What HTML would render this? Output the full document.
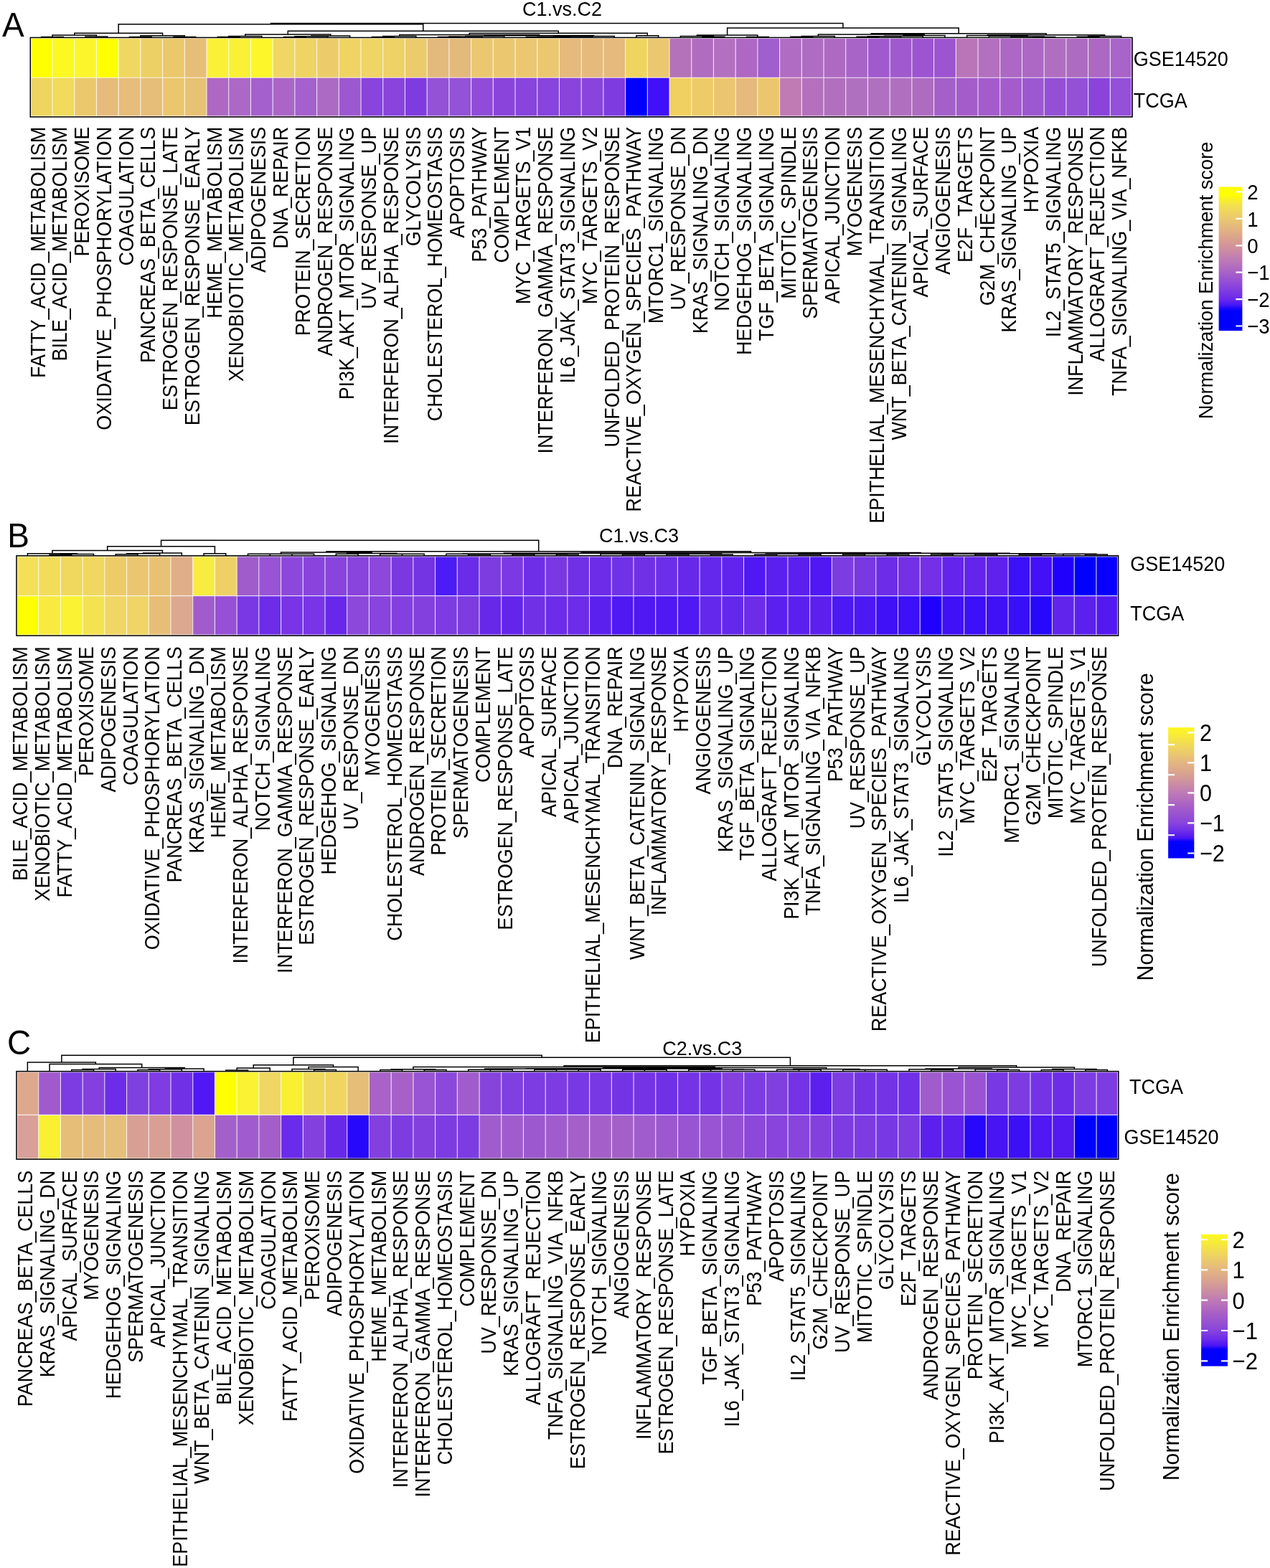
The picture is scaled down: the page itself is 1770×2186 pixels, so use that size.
<!DOCTYPE html>
<html><head><meta charset="utf-8"><title>Hallmark enrichment heatmaps</title>
<style>html,body{margin:0;padding:0;background:#fff;}svg{display:block;}text{font-family:"Liberation Sans", Arial, Helvetica, sans-serif;fill:#000;}</style></head><body>
<svg width="1770" height="2186" viewBox="0 0 1770 2186">
<rect x="0" y="0" width="1770" height="2186" fill="#fff"/>
<defs>
<linearGradient id="gA" x1="0" y1="0" x2="0" y2="1">
<stop offset="0.0000" stop-color="#FFFF00"/>
<stop offset="0.0531" stop-color="#FFFF00"/>
<stop offset="0.1277" stop-color="#F3E050"/>
<stop offset="0.2209" stop-color="#EAC870"/>
<stop offset="0.3142" stop-color="#E0AE84"/>
<stop offset="0.4075" stop-color="#D39498"/>
<stop offset="0.5007" stop-color="#C07CB4"/>
<stop offset="0.5940" stop-color="#A862C6"/>
<stop offset="0.6873" stop-color="#8C46DC"/>
<stop offset="0.7805" stop-color="#6A28EC"/>
<stop offset="0.8179" stop-color="#4A18F4"/>
<stop offset="0.8458" stop-color="#1A06FC"/>
<stop offset="0.8645" stop-color="#0000FF"/>
<stop offset="1.0000" stop-color="#0000FF"/>
</linearGradient>
<linearGradient id="gB" x1="0" y1="0" x2="0" y2="1">
<stop offset="0.0000" stop-color="#FDF81E"/>
<stop offset="0.0389" stop-color="#FAF030"/>
<stop offset="0.1543" stop-color="#EFD460"/>
<stop offset="0.2696" stop-color="#E3B682"/>
<stop offset="0.3849" stop-color="#D49A96"/>
<stop offset="0.5003" stop-color="#BE7AB6"/>
<stop offset="0.6156" stop-color="#A45CC8"/>
<stop offset="0.7309" stop-color="#8844DC"/>
<stop offset="0.8001" stop-color="#6A2AEA"/>
<stop offset="0.8463" stop-color="#4A14F4"/>
<stop offset="0.8739" stop-color="#0400FE"/>
<stop offset="0.8924" stop-color="#0000FF"/>
<stop offset="1.0000" stop-color="#0000FF"/>
</linearGradient>
<linearGradient id="gC" x1="0" y1="0" x2="0" y2="1">
<stop offset="0.0000" stop-color="#FDF81E"/>
<stop offset="0.0392" stop-color="#FAF030"/>
<stop offset="0.1543" stop-color="#EFD460"/>
<stop offset="0.2695" stop-color="#E3B682"/>
<stop offset="0.3846" stop-color="#D49A96"/>
<stop offset="0.4997" stop-color="#BE7AB6"/>
<stop offset="0.6149" stop-color="#A45CC8"/>
<stop offset="0.7300" stop-color="#8844DC"/>
<stop offset="0.7991" stop-color="#6A2AEA"/>
<stop offset="0.8451" stop-color="#4A14F4"/>
<stop offset="0.8728" stop-color="#0400FE"/>
<stop offset="0.8912" stop-color="#0000FF"/>
<stop offset="1.0000" stop-color="#0000FF"/>
</linearGradient>
</defs>
<g id="panelA">
<text transform="translate(3 51.1) scale(1 1.04)" font-size="46">A</text>
<text transform="translate(783.5 22.1) scale(1 1.02)" font-size="27" text-anchor="middle">C1.vs.C2</text>
<path d="M57.66 52.4V51.6H88.37V52.4M119.09 52.4V51H149.8V52.4M73.01 51.6V49H134.44V51M180.51 52.4V51.5H211.23V52.4M241.94 52.4V51.5H272.66V52.4M195.87 51.5V49.7H257.3V51.5M103.73 49V46.2H226.58V49.7M303.37 52.4V51.5H334.08V52.4M318.73 51.5V50.5H364.8V52.4M395.51 52.4V51.5H426.23V52.4M410.87 51.5V50.8H456.94V52.4M433.9 50.8V50H487.65V52.4M341.76 50.5V48.1H460.78V50M518.37 52.4V51.5H549.08V52.4M533.72 51.5V50.5H579.79V52.4M610.51 52.4V51.5H641.22V52.4M625.87 51.5V51H671.94V52.4M648.9 51V50.5H702.65V52.4M733.37 52.4V51.6H764.08V52.4M748.72 51.6V51.3H794.79V52.4M771.76 51.3V51H825.51V52.4M798.63 51V50.5H856.22V52.4M675.78 50.5V49.5H827.43V50.5M556.76 50.5V48.6H751.6V49.5M886.94 52.4V49.7H917.65V52.4M654.18 48.6V46.2H902.29V49.7M401.27 48.1V43.3H778.24V46.2M165.16 46.2V33.8H589.75V43.3M979.08 52.4V51.2H1009.79V52.4M948.36 52.4V50.5H994.43V51.2M1040.51 52.4V51.5H1071.22V52.4M971.4 50.5V49H1055.86V51.5M1101.93 52.4V51.2H1132.65V52.4M1117.29 51.2V50.5H1163.36V52.4M1194.08 52.4V51.3H1224.79V52.4M1209.43 51.3V50.8H1255.5V52.4M1232.47 50.8V50.2H1286.22V52.4M1259.34 50.2V49.5H1316.93V52.4M1140.33 50.5V48.1H1288.14V49.5M1439.79 52.4V51.4H1470.5V52.4M1409.07 52.4V50.9H1455.14V51.4M1378.36 52.4V50.3H1432.11V50.9M1347.64 52.4V49.6H1405.23V50.3M1501.22 52.4V51.2H1531.93V52.4M1516.57 51.2V50.5H1562.64V52.4M1376.44 49.6V48.7H1539.61V50.5M1214.23 48.1V46.8H1458.02V48.7M1013.63 49V39H1336.13V46.8M377.45 33.8V32.4H1174.88V39" fill="none" stroke="#000" stroke-width="1.5" stroke-linecap="square"/>
<rect x="42.3" y="52.4" width="31.01" height="56.1" fill="#FFFF00"/>
<rect x="73.01" y="52.4" width="31.01" height="56.1" fill="#FCF822"/>
<rect x="103.73" y="52.4" width="31.01" height="56.1" fill="#FCF52C"/>
<rect x="134.44" y="52.4" width="31.01" height="56.1" fill="#FFFF00"/>
<rect x="165.16" y="52.4" width="31.01" height="56.1" fill="#F0D860"/>
<rect x="195.87" y="52.4" width="31.01" height="56.1" fill="#EDD065"/>
<rect x="226.58" y="52.4" width="31.01" height="56.1" fill="#EBC86A"/>
<rect x="257.3" y="52.4" width="31.01" height="56.1" fill="#E6BE78"/>
<rect x="288.01" y="52.4" width="31.01" height="56.1" fill="#FAF036"/>
<rect x="318.73" y="52.4" width="31.01" height="56.1" fill="#FAF036"/>
<rect x="349.44" y="52.4" width="31.01" height="56.1" fill="#FCF62A"/>
<rect x="380.15" y="52.4" width="31.01" height="56.1" fill="#F0D664"/>
<rect x="410.87" y="52.4" width="31.01" height="56.1" fill="#EFD464"/>
<rect x="441.58" y="52.4" width="31.01" height="56.1" fill="#ECCC6A"/>
<rect x="472.3" y="52.4" width="31.01" height="56.1" fill="#EFD464"/>
<rect x="503.01" y="52.4" width="31.01" height="56.1" fill="#EFD466"/>
<rect x="533.72" y="52.4" width="31.01" height="56.1" fill="#EED266"/>
<rect x="564.44" y="52.4" width="31.01" height="56.1" fill="#EBCB6C"/>
<rect x="595.15" y="52.4" width="31.01" height="56.1" fill="#E4BA7C"/>
<rect x="625.87" y="52.4" width="31.01" height="56.1" fill="#E4BA7C"/>
<rect x="656.58" y="52.4" width="31.01" height="56.1" fill="#EBC870"/>
<rect x="687.29" y="52.4" width="31.01" height="56.1" fill="#EBC870"/>
<rect x="718.01" y="52.4" width="31.01" height="56.1" fill="#EBC870"/>
<rect x="748.72" y="52.4" width="31.01" height="56.1" fill="#EBC870"/>
<rect x="779.44" y="52.4" width="31.01" height="56.1" fill="#E6BA7C"/>
<rect x="810.15" y="52.4" width="31.01" height="56.1" fill="#E6BA7C"/>
<rect x="840.86" y="52.4" width="31.01" height="56.1" fill="#E6BA7C"/>
<rect x="871.58" y="52.4" width="31.01" height="56.1" fill="#F0D460"/>
<rect x="902.29" y="52.4" width="31.01" height="56.1" fill="#EBC870"/>
<rect x="933.01" y="52.4" width="31.01" height="56.1" fill="#B472B8"/>
<rect x="963.72" y="52.4" width="31.01" height="56.1" fill="#B06CC0"/>
<rect x="994.43" y="52.4" width="31.01" height="56.1" fill="#B470C0"/>
<rect x="1025.15" y="52.4" width="31.01" height="56.1" fill="#AE68C4"/>
<rect x="1055.86" y="52.4" width="31.01" height="56.1" fill="#A05ECE"/>
<rect x="1086.58" y="52.4" width="31.01" height="56.1" fill="#B06CC2"/>
<rect x="1117.29" y="52.4" width="31.01" height="56.1" fill="#AE6CC2"/>
<rect x="1148" y="52.4" width="31.01" height="56.1" fill="#AE6AC2"/>
<rect x="1178.72" y="52.4" width="31.01" height="56.1" fill="#A864C6"/>
<rect x="1209.43" y="52.4" width="31.01" height="56.1" fill="#A05ACE"/>
<rect x="1240.15" y="52.4" width="31.01" height="56.1" fill="#A05ACE"/>
<rect x="1270.86" y="52.4" width="31.01" height="56.1" fill="#9C54D0"/>
<rect x="1301.57" y="52.4" width="31.01" height="56.1" fill="#9C54D0"/>
<rect x="1332.29" y="52.4" width="31.01" height="56.1" fill="#BA74B8"/>
<rect x="1363" y="52.4" width="31.01" height="56.1" fill="#B270BE"/>
<rect x="1393.72" y="52.4" width="31.01" height="56.1" fill="#AC68C4"/>
<rect x="1424.43" y="52.4" width="31.01" height="56.1" fill="#AC68C4"/>
<rect x="1455.14" y="52.4" width="31.01" height="56.1" fill="#B06EC0"/>
<rect x="1485.86" y="52.4" width="31.01" height="56.1" fill="#AE6CC0"/>
<rect x="1516.57" y="52.4" width="31.01" height="56.1" fill="#AC68C2"/>
<rect x="1547.29" y="52.4" width="31.01" height="56.1" fill="#A864C8"/>
<rect x="42.3" y="108.2" width="31.01" height="55.1" fill="#EFD460"/>
<rect x="73.01" y="108.2" width="31.01" height="55.1" fill="#F1DA5C"/>
<rect x="103.73" y="108.2" width="31.01" height="55.1" fill="#EBC86C"/>
<rect x="134.44" y="108.2" width="31.01" height="55.1" fill="#E6BC7C"/>
<rect x="165.16" y="108.2" width="31.01" height="55.1" fill="#E6BD7A"/>
<rect x="195.87" y="108.2" width="31.01" height="55.1" fill="#E6BE7A"/>
<rect x="226.58" y="108.2" width="31.01" height="55.1" fill="#EBC66E"/>
<rect x="257.3" y="108.2" width="31.01" height="55.1" fill="#E8C274"/>
<rect x="288.01" y="108.2" width="31.01" height="55.1" fill="#AE68C4"/>
<rect x="318.73" y="108.2" width="31.01" height="55.1" fill="#AC68C6"/>
<rect x="349.44" y="108.2" width="31.01" height="55.1" fill="#A460CC"/>
<rect x="380.15" y="108.2" width="31.01" height="55.1" fill="#AA66C6"/>
<rect x="410.87" y="108.2" width="31.01" height="55.1" fill="#A460CC"/>
<rect x="441.58" y="108.2" width="31.01" height="55.1" fill="#AC6AC4"/>
<rect x="472.3" y="108.2" width="31.01" height="55.1" fill="#9C58D0"/>
<rect x="503.01" y="108.2" width="31.01" height="55.1" fill="#8844DC"/>
<rect x="533.72" y="108.2" width="31.01" height="55.1" fill="#8844DC"/>
<rect x="564.44" y="108.2" width="31.01" height="55.1" fill="#7E3CDE"/>
<rect x="595.15" y="108.2" width="31.01" height="55.1" fill="#9452D6"/>
<rect x="625.87" y="108.2" width="31.01" height="55.1" fill="#9452D6"/>
<rect x="656.58" y="108.2" width="31.01" height="55.1" fill="#904CD8"/>
<rect x="687.29" y="108.2" width="31.01" height="55.1" fill="#8A44DC"/>
<rect x="718.01" y="108.2" width="31.01" height="55.1" fill="#8844DC"/>
<rect x="748.72" y="108.2" width="31.01" height="55.1" fill="#8844DC"/>
<rect x="779.44" y="108.2" width="31.01" height="55.1" fill="#8844DC"/>
<rect x="810.15" y="108.2" width="31.01" height="55.1" fill="#8844DC"/>
<rect x="840.86" y="108.2" width="31.01" height="55.1" fill="#7E3CE0"/>
<rect x="871.58" y="108.2" width="31.01" height="55.1" fill="#0000FF"/>
<rect x="902.29" y="108.2" width="31.01" height="55.1" fill="#4010F8"/>
<rect x="933.01" y="108.2" width="31.01" height="55.1" fill="#F0D060"/>
<rect x="963.72" y="108.2" width="31.01" height="55.1" fill="#EDCC68"/>
<rect x="994.43" y="108.2" width="31.01" height="55.1" fill="#EBC66E"/>
<rect x="1025.15" y="108.2" width="31.01" height="55.1" fill="#E6BA7C"/>
<rect x="1055.86" y="108.2" width="31.01" height="55.1" fill="#EBC66E"/>
<rect x="1086.58" y="108.2" width="31.01" height="55.1" fill="#C07AB4"/>
<rect x="1117.29" y="108.2" width="31.01" height="55.1" fill="#B470BC"/>
<rect x="1148" y="108.2" width="31.01" height="55.1" fill="#B070BE"/>
<rect x="1178.72" y="108.2" width="31.01" height="55.1" fill="#B070C0"/>
<rect x="1209.43" y="108.2" width="31.01" height="55.1" fill="#B070C0"/>
<rect x="1240.15" y="108.2" width="31.01" height="55.1" fill="#B070C0"/>
<rect x="1270.86" y="108.2" width="31.01" height="55.1" fill="#AE6CC0"/>
<rect x="1301.57" y="108.2" width="31.01" height="55.1" fill="#A460C8"/>
<rect x="1332.29" y="108.2" width="31.01" height="55.1" fill="#A45CCA"/>
<rect x="1363" y="108.2" width="31.01" height="55.1" fill="#A45CCC"/>
<rect x="1393.72" y="108.2" width="31.01" height="55.1" fill="#A45CCC"/>
<rect x="1424.43" y="108.2" width="31.01" height="55.1" fill="#9C58D0"/>
<rect x="1455.14" y="108.2" width="31.01" height="55.1" fill="#9450D4"/>
<rect x="1485.86" y="108.2" width="31.01" height="55.1" fill="#9450D6"/>
<rect x="1516.57" y="108.2" width="31.01" height="55.1" fill="#8A44DC"/>
<rect x="1547.29" y="108.2" width="31.01" height="55.1" fill="#9450D8"/>
<path d="M73.01 52.4V163M103.73 52.4V163M134.44 52.4V163M165.16 52.4V163M195.87 52.4V163M226.58 52.4V163M257.3 52.4V163M288.01 52.4V163M318.73 52.4V163M349.44 52.4V163M380.15 52.4V163M410.87 52.4V163M441.58 52.4V163M472.3 52.4V163M503.01 52.4V163M533.72 52.4V163M564.44 52.4V163M595.15 52.4V163M625.87 52.4V163M656.58 52.4V163M687.29 52.4V163M718.01 52.4V163M748.72 52.4V163M779.44 52.4V163M810.15 52.4V163M840.86 52.4V163M871.58 52.4V163M902.29 52.4V163M933.01 52.4V163M963.72 52.4V163M994.43 52.4V163M1025.15 52.4V163M1055.86 52.4V163M1086.58 52.4V163M1117.29 52.4V163M1148 52.4V163M1178.72 52.4V163M1209.43 52.4V163M1240.15 52.4V163M1270.86 52.4V163M1301.57 52.4V163M1332.29 52.4V163M1363 52.4V163M1393.72 52.4V163M1424.43 52.4V163M1455.14 52.4V163M1485.86 52.4V163M1516.57 52.4V163M1547.29 52.4V163M42.3 108.2H1578M43.4 52.4V163M1576.9 52.4V163M42.3 53.5H1578M42.3 161.9H1578" stroke="#fff" stroke-opacity="0.8" stroke-width="1.1" fill="none"/>
<rect x="42.3" y="52.4" width="1535.7" height="110.6" fill="none" stroke="#000" stroke-width="1.5"/>
<text transform="translate(1579.8 92.2) scale(1 1.08)" font-size="27">GSE14520</text>
<text transform="translate(1579.8 149.5) scale(1 1.08)" font-size="27">TCGA</text>
<text transform="translate(62.5 176.8) rotate(-90) scale(1 1.08)" font-size="26.9" text-anchor="end">FATTY_ACID_METABOLISM</text>
<text transform="translate(93.27 176.8) rotate(-90) scale(1 1.08)" font-size="26.9" text-anchor="end">BILE_ACID_METABOLISM</text>
<text transform="translate(124.04 176.8) rotate(-90) scale(1 1.08)" font-size="26.9" text-anchor="end">PEROXISOME</text>
<text transform="translate(154.81 176.8) rotate(-90) scale(1 1.08)" font-size="26.9" text-anchor="end">OXIDATIVE_PHOSPHORYLATION</text>
<text transform="translate(185.58 176.8) rotate(-90) scale(1 1.08)" font-size="26.9" text-anchor="end">COAGULATION</text>
<text transform="translate(216.35 176.8) rotate(-90) scale(1 1.08)" font-size="26.9" text-anchor="end">PANCREAS_BETA_CELLS</text>
<text transform="translate(247.12 176.8) rotate(-90) scale(1 1.08)" font-size="26.9" text-anchor="end">ESTROGEN_RESPONSE_LATE</text>
<text transform="translate(277.89 176.8) rotate(-90) scale(1 1.08)" font-size="26.9" text-anchor="end">ESTROGEN_RESPONSE_EARLY</text>
<text transform="translate(308.66 176.8) rotate(-90) scale(1 1.08)" font-size="26.9" text-anchor="end">HEME_METABOLISM</text>
<text transform="translate(339.43 176.8) rotate(-90) scale(1 1.08)" font-size="26.9" text-anchor="end">XENOBIOTIC_METABOLISM</text>
<text transform="translate(370.2 176.8) rotate(-90) scale(1 1.08)" font-size="26.9" text-anchor="end">ADIPOGENESIS</text>
<text transform="translate(400.97 176.8) rotate(-90) scale(1 1.08)" font-size="26.9" text-anchor="end">DNA_REPAIR</text>
<text transform="translate(431.74 176.8) rotate(-90) scale(1 1.08)" font-size="26.9" text-anchor="end">PROTEIN_SECRETION</text>
<text transform="translate(462.51 176.8) rotate(-90) scale(1 1.08)" font-size="26.9" text-anchor="end">ANDROGEN_RESPONSE</text>
<text transform="translate(493.28 176.8) rotate(-90) scale(1 1.08)" font-size="26.9" text-anchor="end">PI3K_AKT_MTOR_SIGNALING</text>
<text transform="translate(524.05 176.8) rotate(-90) scale(1 1.08)" font-size="26.9" text-anchor="end">UV_RESPONSE_UP</text>
<text transform="translate(554.82 176.8) rotate(-90) scale(1 1.08)" font-size="26.9" text-anchor="end">INTERFERON_ALPHA_RESPONSE</text>
<text transform="translate(585.59 176.8) rotate(-90) scale(1 1.08)" font-size="26.9" text-anchor="end">GLYCOLYSIS</text>
<text transform="translate(616.36 176.8) rotate(-90) scale(1 1.08)" font-size="26.9" text-anchor="end">CHOLESTEROL_HOMEOSTASIS</text>
<text transform="translate(647.13 176.8) rotate(-90) scale(1 1.08)" font-size="26.9" text-anchor="end">APOPTOSIS</text>
<text transform="translate(677.9 176.8) rotate(-90) scale(1 1.08)" font-size="26.9" text-anchor="end">P53_PATHWAY</text>
<text transform="translate(708.67 176.8) rotate(-90) scale(1 1.08)" font-size="26.9" text-anchor="end">COMPLEMENT</text>
<text transform="translate(739.44 176.8) rotate(-90) scale(1 1.08)" font-size="26.9" text-anchor="end">MYC_TARGETS_V1</text>
<text transform="translate(770.21 176.8) rotate(-90) scale(1 1.08)" font-size="26.9" text-anchor="end">INTERFERON_GAMMA_RESPONSE</text>
<text transform="translate(800.98 176.8) rotate(-90) scale(1 1.08)" font-size="26.9" text-anchor="end">IL6_JAK_STAT3_SIGNALING</text>
<text transform="translate(831.75 176.8) rotate(-90) scale(1 1.08)" font-size="26.9" text-anchor="end">MYC_TARGETS_V2</text>
<text transform="translate(862.52 176.8) rotate(-90) scale(1 1.08)" font-size="26.9" text-anchor="end">UNFOLDED_PROTEIN_RESPONSE</text>
<text transform="translate(893.29 176.8) rotate(-90) scale(1 1.08)" font-size="26.9" text-anchor="end">REACTIVE_OXYGEN_SPECIES_PATHWAY</text>
<text transform="translate(924.06 176.8) rotate(-90) scale(1 1.08)" font-size="26.9" text-anchor="end">MTORC1_SIGNALING</text>
<text transform="translate(954.83 176.8) rotate(-90) scale(1 1.08)" font-size="26.9" text-anchor="end">UV_RESPONSE_DN</text>
<text transform="translate(985.6 176.8) rotate(-90) scale(1 1.08)" font-size="26.9" text-anchor="end">KRAS_SIGNALING_DN</text>
<text transform="translate(1016.37 176.8) rotate(-90) scale(1 1.08)" font-size="26.9" text-anchor="end">NOTCH_SIGNALING</text>
<text transform="translate(1047.14 176.8) rotate(-90) scale(1 1.08)" font-size="26.9" text-anchor="end">HEDGEHOG_SIGNALING</text>
<text transform="translate(1077.91 176.8) rotate(-90) scale(1 1.08)" font-size="26.9" text-anchor="end">TGF_BETA_SIGNALING</text>
<text transform="translate(1108.68 176.8) rotate(-90) scale(1 1.08)" font-size="26.9" text-anchor="end">MITOTIC_SPINDLE</text>
<text transform="translate(1139.45 176.8) rotate(-90) scale(1 1.08)" font-size="26.9" text-anchor="end">SPERMATOGENESIS</text>
<text transform="translate(1170.22 176.8) rotate(-90) scale(1 1.08)" font-size="26.9" text-anchor="end">APICAL_JUNCTION</text>
<text transform="translate(1200.99 176.8) rotate(-90) scale(1 1.08)" font-size="26.9" text-anchor="end">MYOGENESIS</text>
<text transform="translate(1231.76 176.8) rotate(-90) scale(1 1.08)" font-size="26.9" text-anchor="end">EPITHELIAL_MESENCHYMAL_TRANSITION</text>
<text transform="translate(1262.53 176.8) rotate(-90) scale(1 1.08)" font-size="26.9" text-anchor="end">WNT_BETA_CATENIN_SIGNALING</text>
<text transform="translate(1293.3 176.8) rotate(-90) scale(1 1.08)" font-size="26.9" text-anchor="end">APICAL_SURFACE</text>
<text transform="translate(1324.07 176.8) rotate(-90) scale(1 1.08)" font-size="26.9" text-anchor="end">ANGIOGENESIS</text>
<text transform="translate(1354.84 176.8) rotate(-90) scale(1 1.08)" font-size="26.9" text-anchor="end">E2F_TARGETS</text>
<text transform="translate(1385.61 176.8) rotate(-90) scale(1 1.08)" font-size="26.9" text-anchor="end">G2M_CHECKPOINT</text>
<text transform="translate(1416.38 176.8) rotate(-90) scale(1 1.08)" font-size="26.9" text-anchor="end">KRAS_SIGNALING_UP</text>
<text transform="translate(1447.15 176.8) rotate(-90) scale(1 1.08)" font-size="26.9" text-anchor="end">HYPOXIA</text>
<text transform="translate(1477.92 176.8) rotate(-90) scale(1 1.08)" font-size="26.9" text-anchor="end">IL2_STAT5_SIGNALING</text>
<text transform="translate(1508.69 176.8) rotate(-90) scale(1 1.08)" font-size="26.9" text-anchor="end">INFLAMMATORY_RESPONSE</text>
<text transform="translate(1539.46 176.8) rotate(-90) scale(1 1.08)" font-size="26.9" text-anchor="end">ALLOGRAFT_REJECTION</text>
<text transform="translate(1570.23 176.8) rotate(-90) scale(1 1.08)" font-size="26.9" text-anchor="end">TNFA_SIGNALING_VIA_NFKB</text>
</g>
<g id="panelB">
<text transform="translate(10.2 763.2) scale(1 1.04)" font-size="46">B</text>
<text transform="translate(890.5 755.5) scale(1 1.02)" font-size="27" text-anchor="middle">C1.vs.C3</text>
<path d="M69.07 774.8V773.4H99.78V774.8M84.42 773.4V772.5H130.49V774.8M38.36 774.8V771.7H107.46V772.5M161.2 774.8V772.8H191.92V774.8M176.56 772.8V771.8H222.63V774.8M199.59 771.8V770.9H253.34V774.8M72.91 771.7V767.6H226.47V770.9M284.05 774.8V771.8H314.76V774.8M149.69 767.6V761.8H299.41V771.8M345.48 774.8V772.34H376.19V774.8M406.9 774.8V772.34H437.61V774.8M360.83 772.34V772.28H422.26V772.34M468.32 774.8V772.34H499.04V774.8M560.46 774.8V772.34H591.17V774.8M529.75 774.8V772.25H575.82V772.34M483.68 772.34V771.62H552.78V772.25M391.54 772.28V769.9H518.23V771.62M652.6 774.8V773.01H683.31V774.8M621.88 774.8V772.24H667.95V773.01M714.02 774.8V773.01H744.73V774.8M775.44 774.8V773.01H806.16V774.8M729.38 773.01V772.32H790.8V773.01M644.92 772.24V772.03H760.09V772.32M867.58 774.8V773.01H898.29V774.8M836.87 774.8V772.24H882.94V773.01M929 774.8V773.01H959.72V774.8M990.43 774.8V773.01H1021.14V774.8M944.36 773.01V772.32H1005.78V773.01M859.9 772.24V772.03H975.07V772.32M702.5 772.03V771.34H917.49V772.03M1051.85 774.8V773.01H1082.56V774.8M1113.28 774.8V773.01H1143.99V774.8M1067.21 773.01V772.32H1128.63V773.01M1174.7 774.8V773.01H1205.41V774.8M1236.12 774.8V773.01H1266.84V774.8M1190.06 773.01V772.32H1251.48V773.01M1097.92 772.32V771.48H1220.77V772.32M1297.55 774.8V773.01H1328.26V774.8M1358.97 774.8V773.01H1389.68V774.8M1312.9 773.01V772.32H1374.33V773.01M1420.4 774.8V773.01H1451.11V774.8M1512.53 774.8V773.01H1543.24V774.8M1481.82 774.8V772.24H1527.89V773.01M1435.75 773.01V772.45H1504.85V772.24M1343.62 772.32V771.69H1470.3V772.45M1159.34 771.48V771.34H1406.96V771.69M810 771.34V770.6H1283.15V771.34M454.89 769.9V768.8H1046.57V770.6M224.55 761.8V753.3H750.73V768.8" fill="none" stroke="#000" stroke-width="1.5" stroke-linecap="square"/>
<rect x="23" y="774.8" width="31.01" height="56.1" fill="#F3E058"/>
<rect x="53.71" y="774.8" width="31.01" height="56.1" fill="#F2DC5A"/>
<rect x="84.42" y="774.8" width="31.01" height="56.1" fill="#F0D85E"/>
<rect x="115.14" y="774.8" width="31.01" height="56.1" fill="#F0D860"/>
<rect x="145.85" y="774.8" width="31.01" height="56.1" fill="#EDCC68"/>
<rect x="176.56" y="774.8" width="31.01" height="56.1" fill="#EAC670"/>
<rect x="207.27" y="774.8" width="31.01" height="56.1" fill="#E8C274"/>
<rect x="237.98" y="774.8" width="31.01" height="56.1" fill="#E0AE88"/>
<rect x="268.7" y="774.8" width="31.01" height="56.1" fill="#F8EC40"/>
<rect x="299.41" y="774.8" width="31.01" height="56.1" fill="#EFD066"/>
<rect x="330.12" y="774.8" width="31.01" height="56.1" fill="#A05CCA"/>
<rect x="360.83" y="774.8" width="31.01" height="56.1" fill="#9854D4"/>
<rect x="391.54" y="774.8" width="31.01" height="56.1" fill="#8C48DA"/>
<rect x="422.26" y="774.8" width="31.01" height="56.1" fill="#8844DC"/>
<rect x="452.97" y="774.8" width="31.01" height="56.1" fill="#8844DC"/>
<rect x="483.68" y="774.8" width="31.01" height="56.1" fill="#8844DC"/>
<rect x="514.39" y="774.8" width="31.01" height="56.1" fill="#8C48DA"/>
<rect x="545.1" y="774.8" width="31.01" height="56.1" fill="#7A38E0"/>
<rect x="575.82" y="774.8" width="31.01" height="56.1" fill="#7434E4"/>
<rect x="606.53" y="774.8" width="31.01" height="56.1" fill="#4C1CF4"/>
<rect x="637.24" y="774.8" width="31.01" height="56.1" fill="#6A2CE8"/>
<rect x="667.95" y="774.8" width="31.01" height="56.1" fill="#7C3CE0"/>
<rect x="698.66" y="774.8" width="31.01" height="56.1" fill="#7C38E2"/>
<rect x="729.38" y="774.8" width="31.01" height="56.1" fill="#6E2EE8"/>
<rect x="760.09" y="774.8" width="31.01" height="56.1" fill="#7A38E2"/>
<rect x="790.8" y="774.8" width="31.01" height="56.1" fill="#7030E6"/>
<rect x="821.51" y="774.8" width="31.01" height="56.1" fill="#6C2CE8"/>
<rect x="852.22" y="774.8" width="31.01" height="56.1" fill="#7032E6"/>
<rect x="882.94" y="774.8" width="31.01" height="56.1" fill="#7030E6"/>
<rect x="913.65" y="774.8" width="31.01" height="56.1" fill="#6C2EE8"/>
<rect x="944.36" y="774.8" width="31.01" height="56.1" fill="#6828EA"/>
<rect x="975.07" y="774.8" width="31.01" height="56.1" fill="#6428EC"/>
<rect x="1005.78" y="774.8" width="31.01" height="56.1" fill="#6024EE"/>
<rect x="1036.5" y="774.8" width="31.01" height="56.1" fill="#5018F2"/>
<rect x="1067.21" y="774.8" width="31.01" height="56.1" fill="#5C20EE"/>
<rect x="1097.92" y="774.8" width="31.01" height="56.1" fill="#5C20EE"/>
<rect x="1128.63" y="774.8" width="31.01" height="56.1" fill="#5018F2"/>
<rect x="1159.34" y="774.8" width="31.01" height="56.1" fill="#7C3CE2"/>
<rect x="1190.06" y="774.8" width="31.01" height="56.1" fill="#7838E2"/>
<rect x="1220.77" y="774.8" width="31.01" height="56.1" fill="#6C2CE8"/>
<rect x="1251.48" y="774.8" width="31.01" height="56.1" fill="#7430E6"/>
<rect x="1282.19" y="774.8" width="31.01" height="56.1" fill="#7430E6"/>
<rect x="1312.9" y="774.8" width="31.01" height="56.1" fill="#6424EC"/>
<rect x="1343.62" y="774.8" width="31.01" height="56.1" fill="#6424EC"/>
<rect x="1374.33" y="774.8" width="31.01" height="56.1" fill="#6020EE"/>
<rect x="1405.04" y="774.8" width="31.01" height="56.1" fill="#3C10F8"/>
<rect x="1435.75" y="774.8" width="31.01" height="56.1" fill="#4410F6"/>
<rect x="1466.46" y="774.8" width="31.01" height="56.1" fill="#2000FC"/>
<rect x="1497.18" y="774.8" width="31.01" height="56.1" fill="#0000FF"/>
<rect x="1527.89" y="774.8" width="31.01" height="56.1" fill="#0800FE"/>
<rect x="23" y="830.6" width="31.01" height="55.9" fill="#FFFF00"/>
<rect x="53.71" y="830.6" width="31.01" height="55.9" fill="#F8EA40"/>
<rect x="84.42" y="830.6" width="31.01" height="55.9" fill="#FAF232"/>
<rect x="115.14" y="830.6" width="31.01" height="55.9" fill="#F4E250"/>
<rect x="145.85" y="830.6" width="31.01" height="55.9" fill="#F0D664"/>
<rect x="176.56" y="830.6" width="31.01" height="55.9" fill="#EFD466"/>
<rect x="207.27" y="830.6" width="31.01" height="55.9" fill="#E6BE78"/>
<rect x="237.98" y="830.6" width="31.01" height="55.9" fill="#DCA890"/>
<rect x="268.7" y="830.6" width="31.01" height="55.9" fill="#A05CCC"/>
<rect x="299.41" y="830.6" width="31.01" height="55.9" fill="#9650D4"/>
<rect x="330.12" y="830.6" width="31.01" height="55.9" fill="#7A38E4"/>
<rect x="360.83" y="830.6" width="31.01" height="55.9" fill="#6C2CE8"/>
<rect x="391.54" y="830.6" width="31.01" height="55.9" fill="#7834E6"/>
<rect x="422.26" y="830.6" width="31.01" height="55.9" fill="#7834E6"/>
<rect x="452.97" y="830.6" width="31.01" height="55.9" fill="#6828EC"/>
<rect x="483.68" y="830.6" width="31.01" height="55.9" fill="#8C48DA"/>
<rect x="514.39" y="830.6" width="31.01" height="55.9" fill="#8844DC"/>
<rect x="545.1" y="830.6" width="31.01" height="55.9" fill="#8440DE"/>
<rect x="575.82" y="830.6" width="31.01" height="55.9" fill="#8440DE"/>
<rect x="606.53" y="830.6" width="31.01" height="55.9" fill="#7C3CE2"/>
<rect x="637.24" y="830.6" width="31.01" height="55.9" fill="#7C3CE0"/>
<rect x="667.95" y="830.6" width="31.01" height="55.9" fill="#6828EA"/>
<rect x="698.66" y="830.6" width="31.01" height="55.9" fill="#6424EC"/>
<rect x="729.38" y="830.6" width="31.01" height="55.9" fill="#7030E6"/>
<rect x="760.09" y="830.6" width="31.01" height="55.9" fill="#6C2CE8"/>
<rect x="790.8" y="830.6" width="31.01" height="55.9" fill="#6C2CE8"/>
<rect x="821.51" y="830.6" width="31.01" height="55.9" fill="#5C20EE"/>
<rect x="852.22" y="830.6" width="31.01" height="55.9" fill="#5018F2"/>
<rect x="882.94" y="830.6" width="31.01" height="55.9" fill="#5018F2"/>
<rect x="913.65" y="830.6" width="31.01" height="55.9" fill="#5018F2"/>
<rect x="944.36" y="830.6" width="31.01" height="55.9" fill="#5018F2"/>
<rect x="975.07" y="830.6" width="31.01" height="55.9" fill="#6428EC"/>
<rect x="1005.78" y="830.6" width="31.01" height="55.9" fill="#6428EC"/>
<rect x="1036.5" y="830.6" width="31.01" height="55.9" fill="#6C2CE8"/>
<rect x="1067.21" y="830.6" width="31.01" height="55.9" fill="#5C20EE"/>
<rect x="1097.92" y="830.6" width="31.01" height="55.9" fill="#5C20EE"/>
<rect x="1128.63" y="830.6" width="31.01" height="55.9" fill="#5C20EE"/>
<rect x="1159.34" y="830.6" width="31.01" height="55.9" fill="#4C18F4"/>
<rect x="1190.06" y="830.6" width="31.01" height="55.9" fill="#4C18F4"/>
<rect x="1220.77" y="830.6" width="31.01" height="55.9" fill="#4010F6"/>
<rect x="1251.48" y="830.6" width="31.01" height="55.9" fill="#3C10F8"/>
<rect x="1282.19" y="830.6" width="31.01" height="55.9" fill="#2000FC"/>
<rect x="1312.9" y="830.6" width="31.01" height="55.9" fill="#4010F6"/>
<rect x="1343.62" y="830.6" width="31.01" height="55.9" fill="#3C10F8"/>
<rect x="1374.33" y="830.6" width="31.01" height="55.9" fill="#4010F6"/>
<rect x="1405.04" y="830.6" width="31.01" height="55.9" fill="#3810F8"/>
<rect x="1435.75" y="830.6" width="31.01" height="55.9" fill="#2808FA"/>
<rect x="1466.46" y="830.6" width="31.01" height="55.9" fill="#6024EC"/>
<rect x="1497.18" y="830.6" width="31.01" height="55.9" fill="#5C20EE"/>
<rect x="1527.89" y="830.6" width="31.01" height="55.9" fill="#5418F0"/>
<path d="M53.71 774.8V886.2M84.42 774.8V886.2M115.14 774.8V886.2M145.85 774.8V886.2M176.56 774.8V886.2M207.27 774.8V886.2M237.98 774.8V886.2M268.7 774.8V886.2M299.41 774.8V886.2M330.12 774.8V886.2M360.83 774.8V886.2M391.54 774.8V886.2M422.26 774.8V886.2M452.97 774.8V886.2M483.68 774.8V886.2M514.39 774.8V886.2M545.1 774.8V886.2M575.82 774.8V886.2M606.53 774.8V886.2M637.24 774.8V886.2M667.95 774.8V886.2M698.66 774.8V886.2M729.38 774.8V886.2M760.09 774.8V886.2M790.8 774.8V886.2M821.51 774.8V886.2M852.22 774.8V886.2M882.94 774.8V886.2M913.65 774.8V886.2M944.36 774.8V886.2M975.07 774.8V886.2M1005.78 774.8V886.2M1036.5 774.8V886.2M1067.21 774.8V886.2M1097.92 774.8V886.2M1128.63 774.8V886.2M1159.34 774.8V886.2M1190.06 774.8V886.2M1220.77 774.8V886.2M1251.48 774.8V886.2M1282.19 774.8V886.2M1312.9 774.8V886.2M1343.62 774.8V886.2M1374.33 774.8V886.2M1405.04 774.8V886.2M1435.75 774.8V886.2M1466.46 774.8V886.2M1497.18 774.8V886.2M1527.89 774.8V886.2M23 830.6H1558.6M24.1 774.8V886.2M1557.5 774.8V886.2M23 775.9H1558.6M23 885.1H1558.6" stroke="#fff" stroke-opacity="0.8" stroke-width="1.1" fill="none"/>
<rect x="23" y="774.8" width="1535.6" height="111.4" fill="none" stroke="#000" stroke-width="1.5"/>
<text transform="translate(1575.2 795.9) scale(1 1.08)" font-size="27">GSE14520</text>
<text transform="translate(1575.2 865) scale(1 1.08)" font-size="27">TCGA</text>
<text transform="translate(38.15 901.3) rotate(-90) scale(1 1.08)" font-size="26.9" text-anchor="end">BILE_ACID_METABOLISM</text>
<text transform="translate(68.85 901.3) rotate(-90) scale(1 1.08)" font-size="26.9" text-anchor="end">XENOBIOTIC_METABOLISM</text>
<text transform="translate(99.55 901.3) rotate(-90) scale(1 1.08)" font-size="26.9" text-anchor="end">FATTY_ACID_METABOLISM</text>
<text transform="translate(130.25 901.3) rotate(-90) scale(1 1.08)" font-size="26.9" text-anchor="end">PEROXISOME</text>
<text transform="translate(160.95 901.3) rotate(-90) scale(1 1.08)" font-size="26.9" text-anchor="end">ADIPOGENESIS</text>
<text transform="translate(191.65 901.3) rotate(-90) scale(1 1.08)" font-size="26.9" text-anchor="end">COAGULATION</text>
<text transform="translate(222.35 901.3) rotate(-90) scale(1 1.08)" font-size="26.9" text-anchor="end">OXIDATIVE_PHOSPHORYLATION</text>
<text transform="translate(253.05 901.3) rotate(-90) scale(1 1.08)" font-size="26.9" text-anchor="end">PANCREAS_BETA_CELLS</text>
<text transform="translate(283.75 901.3) rotate(-90) scale(1 1.08)" font-size="26.9" text-anchor="end">KRAS_SIGNALING_DN</text>
<text transform="translate(314.45 901.3) rotate(-90) scale(1 1.08)" font-size="26.9" text-anchor="end">HEME_METABOLISM</text>
<text transform="translate(345.15 901.3) rotate(-90) scale(1 1.08)" font-size="26.9" text-anchor="end">INTERFERON_ALPHA_RESPONSE</text>
<text transform="translate(375.85 901.3) rotate(-90) scale(1 1.08)" font-size="26.9" text-anchor="end">NOTCH_SIGNALING</text>
<text transform="translate(406.55 901.3) rotate(-90) scale(1 1.08)" font-size="26.9" text-anchor="end">INTERFERON_GAMMA_RESPONSE</text>
<text transform="translate(437.25 901.3) rotate(-90) scale(1 1.08)" font-size="26.9" text-anchor="end">ESTROGEN_RESPONSE_EARLY</text>
<text transform="translate(467.95 901.3) rotate(-90) scale(1 1.08)" font-size="26.9" text-anchor="end">HEDGEHOG_SIGNALING</text>
<text transform="translate(498.65 901.3) rotate(-90) scale(1 1.08)" font-size="26.9" text-anchor="end">UV_RESPONSE_DN</text>
<text transform="translate(529.35 901.3) rotate(-90) scale(1 1.08)" font-size="26.9" text-anchor="end">MYOGENESIS</text>
<text transform="translate(560.05 901.3) rotate(-90) scale(1 1.08)" font-size="26.9" text-anchor="end">CHOLESTEROL_HOMEOSTASIS</text>
<text transform="translate(590.75 901.3) rotate(-90) scale(1 1.08)" font-size="26.9" text-anchor="end">ANDROGEN_RESPONSE</text>
<text transform="translate(621.45 901.3) rotate(-90) scale(1 1.08)" font-size="26.9" text-anchor="end">PROTEIN_SECRETION</text>
<text transform="translate(652.15 901.3) rotate(-90) scale(1 1.08)" font-size="26.9" text-anchor="end">SPERMATOGENESIS</text>
<text transform="translate(682.85 901.3) rotate(-90) scale(1 1.08)" font-size="26.9" text-anchor="end">COMPLEMENT</text>
<text transform="translate(713.55 901.3) rotate(-90) scale(1 1.08)" font-size="26.9" text-anchor="end">ESTROGEN_RESPONSE_LATE</text>
<text transform="translate(744.25 901.3) rotate(-90) scale(1 1.08)" font-size="26.9" text-anchor="end">APOPTOSIS</text>
<text transform="translate(774.95 901.3) rotate(-90) scale(1 1.08)" font-size="26.9" text-anchor="end">APICAL_SURFACE</text>
<text transform="translate(805.65 901.3) rotate(-90) scale(1 1.08)" font-size="26.9" text-anchor="end">APICAL_JUNCTION</text>
<text transform="translate(836.35 901.3) rotate(-90) scale(1 1.08)" font-size="26.9" text-anchor="end">EPITHELIAL_MESENCHYMAL_TRANSITION</text>
<text transform="translate(867.05 901.3) rotate(-90) scale(1 1.08)" font-size="26.9" text-anchor="end">DNA_REPAIR</text>
<text transform="translate(897.75 901.3) rotate(-90) scale(1 1.08)" font-size="26.9" text-anchor="end">WNT_BETA_CATENIN_SIGNALING</text>
<text transform="translate(928.45 901.3) rotate(-90) scale(1 1.08)" font-size="26.9" text-anchor="end">INFLAMMATORY_RESPONSE</text>
<text transform="translate(959.15 901.3) rotate(-90) scale(1 1.08)" font-size="26.9" text-anchor="end">HYPOXIA</text>
<text transform="translate(989.85 901.3) rotate(-90) scale(1 1.08)" font-size="26.9" text-anchor="end">ANGIOGENESIS</text>
<text transform="translate(1020.55 901.3) rotate(-90) scale(1 1.08)" font-size="26.9" text-anchor="end">KRAS_SIGNALING_UP</text>
<text transform="translate(1051.25 901.3) rotate(-90) scale(1 1.08)" font-size="26.9" text-anchor="end">TGF_BETA_SIGNALING</text>
<text transform="translate(1081.95 901.3) rotate(-90) scale(1 1.08)" font-size="26.9" text-anchor="end">ALLOGRAFT_REJECTION</text>
<text transform="translate(1112.65 901.3) rotate(-90) scale(1 1.08)" font-size="26.9" text-anchor="end">PI3K_AKT_MTOR_SIGNALING</text>
<text transform="translate(1143.35 901.3) rotate(-90) scale(1 1.08)" font-size="26.9" text-anchor="end">TNFA_SIGNALING_VIA_NFKB</text>
<text transform="translate(1174.05 901.3) rotate(-90) scale(1 1.08)" font-size="26.9" text-anchor="end">P53_PATHWAY</text>
<text transform="translate(1204.75 901.3) rotate(-90) scale(1 1.08)" font-size="26.9" text-anchor="end">UV_RESPONSE_UP</text>
<text transform="translate(1235.45 901.3) rotate(-90) scale(1 1.08)" font-size="26.9" text-anchor="end">REACTIVE_OXYGEN_SPECIES_PATHWAY</text>
<text transform="translate(1266.15 901.3) rotate(-90) scale(1 1.08)" font-size="26.9" text-anchor="end">IL6_JAK_STAT3_SIGNALING</text>
<text transform="translate(1296.85 901.3) rotate(-90) scale(1 1.08)" font-size="26.9" text-anchor="end">GLYCOLYSIS</text>
<text transform="translate(1327.55 901.3) rotate(-90) scale(1 1.08)" font-size="26.9" text-anchor="end">IL2_STAT5_SIGNALING</text>
<text transform="translate(1358.25 901.3) rotate(-90) scale(1 1.08)" font-size="26.9" text-anchor="end">MYC_TARGETS_V2</text>
<text transform="translate(1388.95 901.3) rotate(-90) scale(1 1.08)" font-size="26.9" text-anchor="end">E2F_TARGETS</text>
<text transform="translate(1419.65 901.3) rotate(-90) scale(1 1.08)" font-size="26.9" text-anchor="end">MTORC1_SIGNALING</text>
<text transform="translate(1450.35 901.3) rotate(-90) scale(1 1.08)" font-size="26.9" text-anchor="end">G2M_CHECKPOINT</text>
<text transform="translate(1481.05 901.3) rotate(-90) scale(1 1.08)" font-size="26.9" text-anchor="end">MITOTIC_SPINDLE</text>
<text transform="translate(1511.75 901.3) rotate(-90) scale(1 1.08)" font-size="26.9" text-anchor="end">MYC_TARGETS_V1</text>
<text transform="translate(1542.45 901.3) rotate(-90) scale(1 1.08)" font-size="26.9" text-anchor="end">UNFOLDED_PROTEIN_RESPONSE</text>
</g>
<g id="panelC">
<text transform="translate(9.9 1469.7) scale(1 1.04)" font-size="46">C</text>
<text transform="translate(978.7 1470.7) scale(1 1.02)" font-size="27" text-anchor="middle">C2.vs.C3</text>
<path d="M99.79 1493.6V1491.6H130.51V1493.6M115.15 1491.6V1490.5H161.22V1493.6M191.94 1493.6V1491.5H222.65V1493.6M207.3 1491.5V1490.8H253.37V1493.6M230.33 1490.8V1490H284.09V1493.6M138.18 1490.5V1488.6H257.21V1490M69.07 1493.6V1483.6H197.7V1488.6M38.36 1493.6V1481.1H133.39V1483.6M314.8 1493.6V1492H345.52V1493.6M330.16 1492V1488.9H376.23V1493.6M437.67 1493.6V1491.5H468.38V1493.6M406.95 1493.6V1490.5H453.02V1491.5M429.99 1490.5V1487.6H499.1V1493.6M353.2 1488.9V1484.7H464.54V1487.6M529.81 1493.6V1491.45H560.53V1493.6M591.25 1493.6V1491.45H621.96V1493.6M545.17 1491.45V1490.7H606.6V1491.45M683.39 1493.6V1491.26H714.11V1493.6M652.68 1493.6V1491.13H698.75V1491.26M744.83 1493.6V1491.26H775.54V1493.6M806.26 1493.6V1491.26H836.97V1493.6M760.18 1491.26V1491.12H821.62V1491.26M675.71 1491.13V1489.92H790.9V1491.12M898.41 1493.6V1491.26H929.12V1493.6M867.69 1493.6V1491.13H913.76V1491.26M959.84 1493.6V1491.26H990.55V1493.6M1021.27 1493.6V1491.26H1051.99V1493.6M975.2 1491.26V1491.12H1036.63V1491.26M890.73 1491.13V1489.92H1005.91V1491.12M733.31 1489.92V1489.78H948.32V1489.92M1113.42 1493.6V1491.26H1144.13V1493.6M1082.7 1493.6V1491.13H1128.78V1491.26M1205.57 1493.6V1491.26H1236.28V1493.6M1174.85 1493.6V1491.13H1220.92V1491.26M1105.74 1491.13V1490.54H1197.89V1491.13M840.81 1489.78V1488.5H1151.81V1490.54M575.89 1490.7V1487.4H996.31V1488.5M1297.71 1493.6V1491.61H1328.43V1493.6M1267 1493.6V1490.67H1313.07V1491.61M1389.86 1493.6V1491.61H1420.58V1493.6M1359.15 1493.6V1490.67H1405.22V1491.61M1290.03 1490.67V1489.98H1382.18V1490.67M1451.29 1493.6V1491.61H1482.01V1493.6M1512.73 1493.6V1491.61H1543.44V1493.6M1466.65 1491.61V1490.62H1528.08V1491.61M1336.11 1489.98V1488H1497.37V1490.62M786.1 1487.4V1485.7H1416.74V1488M408.87 1484.7V1474.2H1101.42V1485.7M85.87 1481.1V1471.2H755.14V1474.2" fill="none" stroke="#000" stroke-width="1.5" stroke-linecap="square"/>
<rect x="23" y="1493.6" width="31.02" height="61.1" fill="#DEA88C"/>
<rect x="53.72" y="1493.6" width="31.02" height="61.1" fill="#A05ACE"/>
<rect x="84.43" y="1493.6" width="31.02" height="61.1" fill="#7C3CE2"/>
<rect x="115.15" y="1493.6" width="31.02" height="61.1" fill="#8440DE"/>
<rect x="145.86" y="1493.6" width="31.02" height="61.1" fill="#6C2CE8"/>
<rect x="176.58" y="1493.6" width="31.02" height="61.1" fill="#8040E0"/>
<rect x="207.3" y="1493.6" width="31.02" height="61.1" fill="#7E3CE2"/>
<rect x="238.01" y="1493.6" width="31.02" height="61.1" fill="#7030E6"/>
<rect x="268.73" y="1493.6" width="31.02" height="61.1" fill="#5018F4"/>
<rect x="299.44" y="1493.6" width="31.02" height="61.1" fill="#FFFF00"/>
<rect x="330.16" y="1493.6" width="31.02" height="61.1" fill="#FAF232"/>
<rect x="360.88" y="1493.6" width="31.02" height="61.1" fill="#F0D662"/>
<rect x="391.59" y="1493.6" width="31.02" height="61.1" fill="#F8F030"/>
<rect x="422.31" y="1493.6" width="31.02" height="61.1" fill="#F0DA5E"/>
<rect x="453.02" y="1493.6" width="31.02" height="61.1" fill="#F0D660"/>
<rect x="483.74" y="1493.6" width="31.02" height="61.1" fill="#E6BE78"/>
<rect x="514.46" y="1493.6" width="31.02" height="61.1" fill="#A862C8"/>
<rect x="545.17" y="1493.6" width="31.02" height="61.1" fill="#A660C8"/>
<rect x="575.89" y="1493.6" width="31.02" height="61.1" fill="#9854D2"/>
<rect x="606.6" y="1493.6" width="31.02" height="61.1" fill="#8C48DA"/>
<rect x="637.32" y="1493.6" width="31.02" height="61.1" fill="#A05CCC"/>
<rect x="668.04" y="1493.6" width="31.02" height="61.1" fill="#8644DC"/>
<rect x="698.75" y="1493.6" width="31.02" height="61.1" fill="#8040E0"/>
<rect x="729.47" y="1493.6" width="31.02" height="61.1" fill="#7C3CE2"/>
<rect x="760.18" y="1493.6" width="31.02" height="61.1" fill="#7C3CE2"/>
<rect x="790.9" y="1493.6" width="31.02" height="61.1" fill="#7838E4"/>
<rect x="821.62" y="1493.6" width="31.02" height="61.1" fill="#7838E4"/>
<rect x="852.33" y="1493.6" width="31.02" height="61.1" fill="#7434E6"/>
<rect x="883.05" y="1493.6" width="31.02" height="61.1" fill="#7434E6"/>
<rect x="913.76" y="1493.6" width="31.02" height="61.1" fill="#7030E6"/>
<rect x="944.48" y="1493.6" width="31.02" height="61.1" fill="#7434E6"/>
<rect x="975.2" y="1493.6" width="31.02" height="61.1" fill="#7434E6"/>
<rect x="1005.91" y="1493.6" width="31.02" height="61.1" fill="#8440DE"/>
<rect x="1036.63" y="1493.6" width="31.02" height="61.1" fill="#7C3CE2"/>
<rect x="1067.34" y="1493.6" width="31.02" height="61.1" fill="#8040E0"/>
<rect x="1098.06" y="1493.6" width="31.02" height="61.1" fill="#7434E6"/>
<rect x="1128.78" y="1493.6" width="31.02" height="61.1" fill="#5C20EE"/>
<rect x="1159.49" y="1493.6" width="31.02" height="61.1" fill="#7C3CE2"/>
<rect x="1190.21" y="1493.6" width="31.02" height="61.1" fill="#7434E6"/>
<rect x="1220.92" y="1493.6" width="31.02" height="61.1" fill="#7434E6"/>
<rect x="1251.64" y="1493.6" width="31.02" height="61.1" fill="#7030E8"/>
<rect x="1282.36" y="1493.6" width="31.02" height="61.1" fill="#A05CCC"/>
<rect x="1313.07" y="1493.6" width="31.02" height="61.1" fill="#9A54D2"/>
<rect x="1343.79" y="1493.6" width="31.02" height="61.1" fill="#9A54D2"/>
<rect x="1374.5" y="1493.6" width="31.02" height="61.1" fill="#7838E4"/>
<rect x="1405.22" y="1493.6" width="31.02" height="61.1" fill="#7C3CE2"/>
<rect x="1435.94" y="1493.6" width="31.02" height="61.1" fill="#7434E6"/>
<rect x="1466.65" y="1493.6" width="31.02" height="61.1" fill="#6C2CE8"/>
<rect x="1497.37" y="1493.6" width="31.02" height="61.1" fill="#7C3CE2"/>
<rect x="1528.08" y="1493.6" width="31.02" height="61.1" fill="#7C3CE2"/>
<rect x="23" y="1554.4" width="31.02" height="62" fill="#D8A098"/>
<rect x="53.72" y="1554.4" width="31.02" height="62" fill="#F8F030"/>
<rect x="84.43" y="1554.4" width="31.02" height="62" fill="#E6BE78"/>
<rect x="115.15" y="1554.4" width="31.02" height="62" fill="#E6BC7C"/>
<rect x="145.86" y="1554.4" width="31.02" height="62" fill="#E6C07A"/>
<rect x="176.58" y="1554.4" width="31.02" height="62" fill="#D8A094"/>
<rect x="207.3" y="1554.4" width="31.02" height="62" fill="#D8A094"/>
<rect x="238.01" y="1554.4" width="31.02" height="62" fill="#D090A0"/>
<rect x="268.73" y="1554.4" width="31.02" height="62" fill="#DAA490"/>
<rect x="299.44" y="1554.4" width="31.02" height="62" fill="#A460CA"/>
<rect x="330.16" y="1554.4" width="31.02" height="62" fill="#A05CCC"/>
<rect x="360.88" y="1554.4" width="31.02" height="62" fill="#A45ECA"/>
<rect x="391.59" y="1554.4" width="31.02" height="62" fill="#6A2CEA"/>
<rect x="422.31" y="1554.4" width="31.02" height="62" fill="#8440DE"/>
<rect x="453.02" y="1554.4" width="31.02" height="62" fill="#6828EA"/>
<rect x="483.74" y="1554.4" width="31.02" height="62" fill="#2808FA"/>
<rect x="514.46" y="1554.4" width="31.02" height="62" fill="#8440DE"/>
<rect x="545.17" y="1554.4" width="31.02" height="62" fill="#7C3CE2"/>
<rect x="575.89" y="1554.4" width="31.02" height="62" fill="#8440DE"/>
<rect x="606.6" y="1554.4" width="31.02" height="62" fill="#7C3CE2"/>
<rect x="637.32" y="1554.4" width="31.02" height="62" fill="#7C3CE2"/>
<rect x="668.04" y="1554.4" width="31.02" height="62" fill="#A05CCC"/>
<rect x="698.75" y="1554.4" width="31.02" height="62" fill="#A05CCC"/>
<rect x="729.47" y="1554.4" width="31.02" height="62" fill="#9C58CE"/>
<rect x="760.18" y="1554.4" width="31.02" height="62" fill="#A05CCC"/>
<rect x="790.9" y="1554.4" width="31.02" height="62" fill="#A460C8"/>
<rect x="821.62" y="1554.4" width="31.02" height="62" fill="#A460C8"/>
<rect x="852.33" y="1554.4" width="31.02" height="62" fill="#A460C8"/>
<rect x="883.05" y="1554.4" width="31.02" height="62" fill="#A05CCC"/>
<rect x="913.76" y="1554.4" width="31.02" height="62" fill="#9C58CE"/>
<rect x="944.48" y="1554.4" width="31.02" height="62" fill="#9854D2"/>
<rect x="975.2" y="1554.4" width="31.02" height="62" fill="#9854D2"/>
<rect x="1005.91" y="1554.4" width="31.02" height="62" fill="#9450D4"/>
<rect x="1036.63" y="1554.4" width="31.02" height="62" fill="#8C48D8"/>
<rect x="1067.34" y="1554.4" width="31.02" height="62" fill="#8844DC"/>
<rect x="1098.06" y="1554.4" width="31.02" height="62" fill="#8844DC"/>
<rect x="1128.78" y="1554.4" width="31.02" height="62" fill="#8440DE"/>
<rect x="1159.49" y="1554.4" width="31.02" height="62" fill="#7C3CE2"/>
<rect x="1190.21" y="1554.4" width="31.02" height="62" fill="#7C3CE2"/>
<rect x="1220.92" y="1554.4" width="31.02" height="62" fill="#7838E4"/>
<rect x="1251.64" y="1554.4" width="31.02" height="62" fill="#7C3CE2"/>
<rect x="1282.36" y="1554.4" width="31.02" height="62" fill="#5C20EE"/>
<rect x="1313.07" y="1554.4" width="31.02" height="62" fill="#5C20EE"/>
<rect x="1343.79" y="1554.4" width="31.02" height="62" fill="#2808FA"/>
<rect x="1374.5" y="1554.4" width="31.02" height="62" fill="#4814F4"/>
<rect x="1405.22" y="1554.4" width="31.02" height="62" fill="#3C10F6"/>
<rect x="1435.94" y="1554.4" width="31.02" height="62" fill="#5018F2"/>
<rect x="1466.65" y="1554.4" width="31.02" height="62" fill="#5418F0"/>
<rect x="1497.37" y="1554.4" width="31.02" height="62" fill="#0000FF"/>
<rect x="1528.08" y="1554.4" width="31.02" height="62" fill="#0000FF"/>
<path d="M53.72 1493.6V1616.1M84.43 1493.6V1616.1M115.15 1493.6V1616.1M145.86 1493.6V1616.1M176.58 1493.6V1616.1M207.3 1493.6V1616.1M238.01 1493.6V1616.1M268.73 1493.6V1616.1M299.44 1493.6V1616.1M330.16 1493.6V1616.1M360.88 1493.6V1616.1M391.59 1493.6V1616.1M422.31 1493.6V1616.1M453.02 1493.6V1616.1M483.74 1493.6V1616.1M514.46 1493.6V1616.1M545.17 1493.6V1616.1M575.89 1493.6V1616.1M606.6 1493.6V1616.1M637.32 1493.6V1616.1M668.04 1493.6V1616.1M698.75 1493.6V1616.1M729.47 1493.6V1616.1M760.18 1493.6V1616.1M790.9 1493.6V1616.1M821.62 1493.6V1616.1M852.33 1493.6V1616.1M883.05 1493.6V1616.1M913.76 1493.6V1616.1M944.48 1493.6V1616.1M975.2 1493.6V1616.1M1005.91 1493.6V1616.1M1036.63 1493.6V1616.1M1067.34 1493.6V1616.1M1098.06 1493.6V1616.1M1128.78 1493.6V1616.1M1159.49 1493.6V1616.1M1190.21 1493.6V1616.1M1220.92 1493.6V1616.1M1251.64 1493.6V1616.1M1282.36 1493.6V1616.1M1313.07 1493.6V1616.1M1343.79 1493.6V1616.1M1374.5 1493.6V1616.1M1405.22 1493.6V1616.1M1435.94 1493.6V1616.1M1466.65 1493.6V1616.1M1497.37 1493.6V1616.1M1528.08 1493.6V1616.1M23 1554.4H1558.8M24.1 1493.6V1616.1M1557.7 1493.6V1616.1M23 1494.7H1558.8M23 1615H1558.8" stroke="#fff" stroke-opacity="0.8" stroke-width="1.1" fill="none"/>
<rect x="23" y="1493.6" width="1535.8" height="122.5" fill="none" stroke="#000" stroke-width="1.5"/>
<text transform="translate(1574 1525.4) scale(1 1.08)" font-size="27">TCGA</text>
<text transform="translate(1566.4 1594.5) scale(1 1.08)" font-size="27">GSE14520</text>
<text transform="translate(45.05 1631.9) rotate(-90) scale(1 1.08)" font-size="26.9" text-anchor="end">PANCREAS_BETA_CELLS</text>
<text transform="translate(75.83 1631.9) rotate(-90) scale(1 1.08)" font-size="26.9" text-anchor="end">KRAS_SIGNALING_DN</text>
<text transform="translate(106.61 1631.9) rotate(-90) scale(1 1.08)" font-size="26.9" text-anchor="end">APICAL_SURFACE</text>
<text transform="translate(137.39 1631.9) rotate(-90) scale(1 1.08)" font-size="26.9" text-anchor="end">MYOGENESIS</text>
<text transform="translate(168.17 1631.9) rotate(-90) scale(1 1.08)" font-size="26.9" text-anchor="end">HEDGEHOG_SIGNALING</text>
<text transform="translate(198.95 1631.9) rotate(-90) scale(1 1.08)" font-size="26.9" text-anchor="end">SPERMATOGENESIS</text>
<text transform="translate(229.73 1631.9) rotate(-90) scale(1 1.08)" font-size="26.9" text-anchor="end">APICAL_JUNCTION</text>
<text transform="translate(260.51 1631.9) rotate(-90) scale(1 1.08)" font-size="26.9" text-anchor="end">EPITHELIAL_MESENCHYMAL_TRANSITION</text>
<text transform="translate(291.29 1631.9) rotate(-90) scale(1 1.08)" font-size="26.9" text-anchor="end">WNT_BETA_CATENIN_SIGNALING</text>
<text transform="translate(322.07 1631.9) rotate(-90) scale(1 1.08)" font-size="26.9" text-anchor="end">BILE_ACID_METABOLISM</text>
<text transform="translate(352.85 1631.9) rotate(-90) scale(1 1.08)" font-size="26.9" text-anchor="end">XENOBIOTIC_METABOLISM</text>
<text transform="translate(383.63 1631.9) rotate(-90) scale(1 1.08)" font-size="26.9" text-anchor="end">COAGULATION</text>
<text transform="translate(414.41 1631.9) rotate(-90) scale(1 1.08)" font-size="26.9" text-anchor="end">FATTY_ACID_METABOLISM</text>
<text transform="translate(445.19 1631.9) rotate(-90) scale(1 1.08)" font-size="26.9" text-anchor="end">PEROXISOME</text>
<text transform="translate(475.97 1631.9) rotate(-90) scale(1 1.08)" font-size="26.9" text-anchor="end">ADIPOGENESIS</text>
<text transform="translate(506.75 1631.9) rotate(-90) scale(1 1.08)" font-size="26.9" text-anchor="end">OXIDATIVE_PHOSPHORYLATION</text>
<text transform="translate(537.53 1631.9) rotate(-90) scale(1 1.08)" font-size="26.9" text-anchor="end">HEME_METABOLISM</text>
<text transform="translate(568.31 1631.9) rotate(-90) scale(1 1.08)" font-size="26.9" text-anchor="end">INTERFERON_ALPHA_RESPONSE</text>
<text transform="translate(599.09 1631.9) rotate(-90) scale(1 1.08)" font-size="26.9" text-anchor="end">INTERFERON_GAMMA_RESPONSE</text>
<text transform="translate(629.87 1631.9) rotate(-90) scale(1 1.08)" font-size="26.9" text-anchor="end">CHOLESTEROL_HOMEOSTASIS</text>
<text transform="translate(660.65 1631.9) rotate(-90) scale(1 1.08)" font-size="26.9" text-anchor="end">COMPLEMENT</text>
<text transform="translate(691.43 1631.9) rotate(-90) scale(1 1.08)" font-size="26.9" text-anchor="end">UV_RESPONSE_DN</text>
<text transform="translate(722.21 1631.9) rotate(-90) scale(1 1.08)" font-size="26.9" text-anchor="end">KRAS_SIGNALING_UP</text>
<text transform="translate(752.99 1631.9) rotate(-90) scale(1 1.08)" font-size="26.9" text-anchor="end">ALLOGRAFT_REJECTION</text>
<text transform="translate(783.77 1631.9) rotate(-90) scale(1 1.08)" font-size="26.9" text-anchor="end">TNFA_SIGNALING_VIA_NFKB</text>
<text transform="translate(814.55 1631.9) rotate(-90) scale(1 1.08)" font-size="26.9" text-anchor="end">ESTROGEN_RESPONSE_EARLY</text>
<text transform="translate(845.33 1631.9) rotate(-90) scale(1 1.08)" font-size="26.9" text-anchor="end">NOTCH_SIGNALING</text>
<text transform="translate(876.11 1631.9) rotate(-90) scale(1 1.08)" font-size="26.9" text-anchor="end">ANGIOGENESIS</text>
<text transform="translate(906.89 1631.9) rotate(-90) scale(1 1.08)" font-size="26.9" text-anchor="end">INFLAMMATORY_RESPONSE</text>
<text transform="translate(937.67 1631.9) rotate(-90) scale(1 1.08)" font-size="26.9" text-anchor="end">ESTROGEN_RESPONSE_LATE</text>
<text transform="translate(968.45 1631.9) rotate(-90) scale(1 1.08)" font-size="26.9" text-anchor="end">HYPOXIA</text>
<text transform="translate(999.23 1631.9) rotate(-90) scale(1 1.08)" font-size="26.9" text-anchor="end">TGF_BETA_SIGNALING</text>
<text transform="translate(1030.01 1631.9) rotate(-90) scale(1 1.08)" font-size="26.9" text-anchor="end">IL6_JAK_STAT3_SIGNALING</text>
<text transform="translate(1060.79 1631.9) rotate(-90) scale(1 1.08)" font-size="26.9" text-anchor="end">P53_PATHWAY</text>
<text transform="translate(1091.57 1631.9) rotate(-90) scale(1 1.08)" font-size="26.9" text-anchor="end">APOPTOSIS</text>
<text transform="translate(1122.35 1631.9) rotate(-90) scale(1 1.08)" font-size="26.9" text-anchor="end">IL2_STAT5_SIGNALING</text>
<text transform="translate(1153.13 1631.9) rotate(-90) scale(1 1.08)" font-size="26.9" text-anchor="end">G2M_CHECKPOINT</text>
<text transform="translate(1183.91 1631.9) rotate(-90) scale(1 1.08)" font-size="26.9" text-anchor="end">UV_RESPONSE_UP</text>
<text transform="translate(1214.69 1631.9) rotate(-90) scale(1 1.08)" font-size="26.9" text-anchor="end">MITOTIC_SPINDLE</text>
<text transform="translate(1245.47 1631.9) rotate(-90) scale(1 1.08)" font-size="26.9" text-anchor="end">GLYCOLYSIS</text>
<text transform="translate(1276.25 1631.9) rotate(-90) scale(1 1.08)" font-size="26.9" text-anchor="end">E2F_TARGETS</text>
<text transform="translate(1307.03 1631.9) rotate(-90) scale(1 1.08)" font-size="26.9" text-anchor="end">ANDROGEN_RESPONSE</text>
<text transform="translate(1337.81 1631.9) rotate(-90) scale(1 1.08)" font-size="26.9" text-anchor="end">REACTIVE_OXYGEN_SPECIES_PATHWAY</text>
<text transform="translate(1368.59 1631.9) rotate(-90) scale(1 1.08)" font-size="26.9" text-anchor="end">PROTEIN_SECRETION</text>
<text transform="translate(1399.37 1631.9) rotate(-90) scale(1 1.08)" font-size="26.9" text-anchor="end">PI3K_AKT_MTOR_SIGNALING</text>
<text transform="translate(1430.15 1631.9) rotate(-90) scale(1 1.08)" font-size="26.9" text-anchor="end">MYC_TARGETS_V1</text>
<text transform="translate(1460.93 1631.9) rotate(-90) scale(1 1.08)" font-size="26.9" text-anchor="end">MYC_TARGETS_V2</text>
<text transform="translate(1491.71 1631.9) rotate(-90) scale(1 1.08)" font-size="26.9" text-anchor="end">DNA_REPAIR</text>
<text transform="translate(1522.49 1631.9) rotate(-90) scale(1 1.08)" font-size="26.9" text-anchor="end">MTORC1_SIGNALING</text>
<text transform="translate(1553.27 1631.9) rotate(-90) scale(1 1.08)" font-size="26.9" text-anchor="end">UNFOLDED_PROTEIN_RESPONSE</text>
</g>
<rect x="1698.6" y="260.6" width="32.8" height="200.5" fill="url(#gA)"/>
<path d="M1722.4 267.5H1731.4M1722.4 304.9H1731.4M1722.4 342.3H1731.4M1722.4 379.7H1731.4M1722.4 417.1H1731.4M1722.4 454.5H1731.4" stroke="#fff" stroke-width="2.2" fill="none"/>
<text transform="translate(1738.2 278.17) scale(1 1.08)" font-size="27.6">2</text>
<text transform="translate(1738.2 315.57) scale(1 1.08)" font-size="27.6">1</text>
<text transform="translate(1738.2 352.97) scale(1 1.08)" font-size="27.6">0</text>
<text transform="translate(1738.2 390.37) scale(1 1.08)" font-size="27.6">−1</text>
<text transform="translate(1738.2 427.77) scale(1 1.08)" font-size="27.6">−2</text>
<text transform="translate(1738.2 465.17) scale(1 1.08)" font-size="27.6">−3</text>
<text transform="translate(1690 391) rotate(-90) scale(1 1.03)" font-size="27.3" text-anchor="middle">Normalization Enrichment score</text>
<rect x="1628.1" y="1014.2" width="36.2" height="182.3" fill="url(#gB)"/>
<path d="M1655.3 1021.3H1664.3M1655.3 1063.35H1664.3M1655.3 1105.4H1664.3M1655.3 1147.45H1664.3M1655.3 1189.5H1664.3M1628.1 1038.12H1637.1M1628.1 1080.17H1637.1M1628.1 1122.22H1637.1M1628.1 1164.27H1637.1" stroke="#fff" stroke-width="2.2" fill="none"/>
<text transform="translate(1672 1033.09) scale(1 1.08)" font-size="30.5">2</text>
<text transform="translate(1672 1075.14) scale(1 1.08)" font-size="30.5">1</text>
<text transform="translate(1672 1117.19) scale(1 1.08)" font-size="30.5">0</text>
<text transform="translate(1672 1159.24) scale(1 1.08)" font-size="30.5">−1</text>
<text transform="translate(1672 1201.29) scale(1 1.08)" font-size="30.5">−2</text>
<text transform="translate(1606.6 1152.8) rotate(-90) scale(1 1.03)" font-size="30.3" text-anchor="middle">Normalization Enrichment score</text>
<rect x="1674.1" y="1720.9" width="36.9" height="183.7" fill="url(#gC)"/>
<path d="M1702 1728.1H1711M1702 1770.4H1711M1702 1812.7H1711M1702 1855H1711M1702 1897.3H1711M1674.1 1728.1H1683.1M1674.1 1770.4H1683.1M1674.1 1812.7H1683.1M1674.1 1855H1683.1M1674.1 1897.3H1683.1" stroke="#fff" stroke-width="2.2" fill="none"/>
<text transform="translate(1717.6 1740.09) scale(1 1.08)" font-size="31">2</text>
<text transform="translate(1717.6 1782.39) scale(1 1.08)" font-size="31">1</text>
<text transform="translate(1717.6 1824.69) scale(1 1.08)" font-size="31">0</text>
<text transform="translate(1717.6 1866.99) scale(1 1.08)" font-size="31">−1</text>
<text transform="translate(1717.6 1909.29) scale(1 1.08)" font-size="31">−2</text>
<text transform="translate(1642.6 1849.7) rotate(-90) scale(1 1.03)" font-size="30.3" text-anchor="middle">Normalization Enrichment score</text>
</svg></body></html>
